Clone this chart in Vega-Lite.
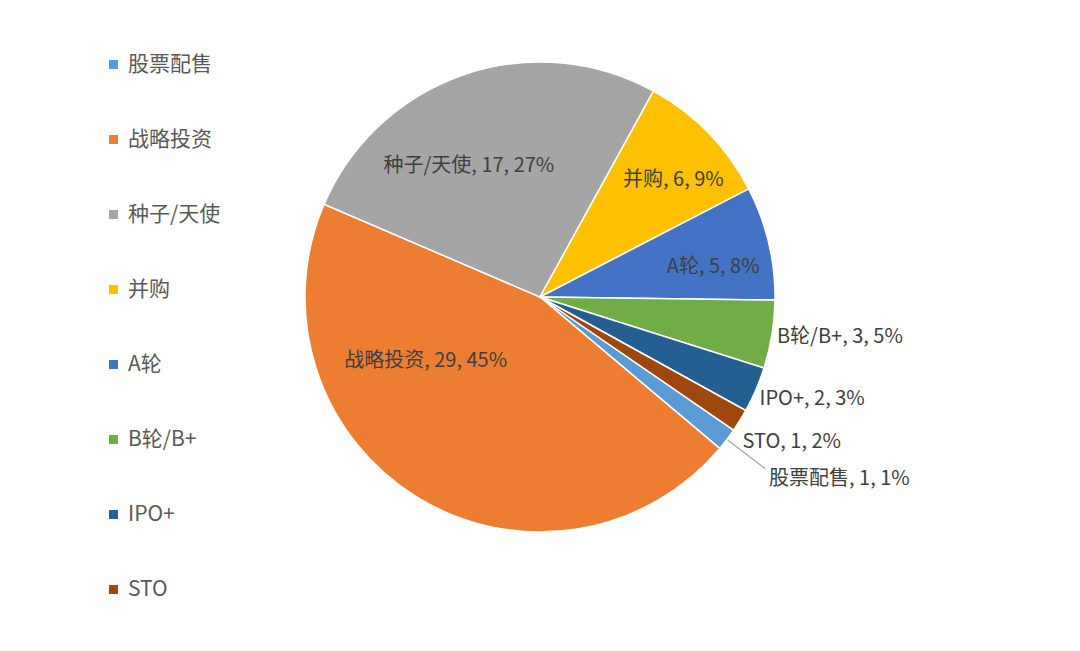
{
  "$schema": "https://vega.github.io/schema/vega-lite/v6.json",
  "width": 1080,
  "height": 594,
  "autosize": "none",
  "padding": {"left": 0, "top": 0, "right": 0, "bottom": 57},
  "background": "white",
  "config": {
    "view": {"stroke": null},
    "font": "Noto Sans CJK SC",
    "text": {"font": "Noto Sans CJK SC"}
  },
  "data": {
    "values": [
      {"idx": 1, "name": "股票配售", "count": 1, "label": "股票配售, 1, 1%"},
      {"idx": 2, "name": "战略投资", "count": 29, "label": "战略投资, 29, 45%"},
      {"idx": 3, "name": "种子/天使", "count": 17, "label": "种子/天使, 17, 27%"},
      {"idx": 4, "name": "并购", "count": 6, "label": "并购, 6, 9%"},
      {"idx": 5, "name": "A轮", "count": 5, "label": "A轮, 5, 8%"},
      {"idx": 6, "name": "B轮/B+", "count": 3, "label": "B轮/B+, 3, 5%"},
      {"idx": 7, "name": "IPO+", "count": 2, "label": "IPO+, 2, 3%"},
      {"idx": 8, "name": "STO", "count": 1, "label": "STO, 1, 2%"}
    ]
  },
  "encoding": {
    "theta": {"field": "count", "type": "quantitative", "stack": true, "scale": {"range": [2.1729, 8.4561]}},
    "order": {"field": "idx", "type": "quantitative", "sort": "ascending"}
  },
  "layer": [
    {
      "mark": {"type": "arc", "radius": 235, "stroke": "white", "strokeWidth": 1.5},
      "encoding": {
        "color": {
          "field": "name",
          "type": "nominal",
          "scale": {
            "domain": ["股票配售", "战略投资", "种子/天使", "并购", "A轮", "B轮/B+", "IPO+", "STO"],
            "range": ["#5B9BD5", "#ED7D31", "#A5A5A5", "#FFC000", "#4472C4", "#70AD47", "#255E91", "#9E480E"]
          },
          "sort": ["股票配售", "战略投资", "种子/天使", "并购", "A轮", "B轮/B+", "IPO+", "STO"],
          "legend": {
            "title": null,
            "orient": "none",
            "legendX": 103,
            "legendY": 54,
            "symbolType": "square",
            "symbolSize": 81,
            "symbolStrokeWidth": 0,
            "labelFont": "Noto Sans CJK SC",
            "labelFontSize": 21,
            "labelColor": "#595959",
            "labelOffset": 4,
            "rowPadding": 53,
            "padding": 0
          }
        }
      }
    },
    {
      "mark": {"type": "arc", "radius": 283, "radius2": 236, "padAngle": 0.1, "fill": null, "stroke": "#A6A6A6", "strokeWidth": 1.3},
      "encoding": {
        "detail": {"field": "name"},
        "strokeOpacity": {"condition": {"test": "datum.name === '股票配售'", "value": 1}, "value": 0}
      }
    },
    {
      "mark": {"type": "text", "radius": 139, "dx": -26, "align": "center", "baseline": "middle", "fontSize": 20, "color": "#404040"},
      "encoding": {"detail": {"field": "name"}, "text": {"condition": {"test": "datum.name === '种子/天使'", "field": "label"}, "value": ""}}
    },
    {
      "mark": {"type": "text", "radius": 168, "dx": 13, "align": "center", "baseline": "middle", "fontSize": 20, "color": "#404040"},
      "encoding": {"detail": {"field": "name"}, "text": {"condition": {"test": "datum.name === '并购'", "field": "label"}, "value": ""}}
    },
    {
      "mark": {"type": "text", "radius": 178, "dy": 11, "align": "center", "baseline": "middle", "fontSize": 20, "color": "#404040"},
      "encoding": {"detail": {"field": "name"}, "text": {"condition": {"test": "datum.name === 'A轮'", "field": "label"}, "value": ""}}
    },
    {
      "mark": {"type": "text", "radius": 75, "dx": -75, "align": "center", "baseline": "middle", "fontSize": 20, "color": "#404040"},
      "encoding": {"detail": {"field": "name"}, "text": {"condition": {"test": "datum.name === '战略投资'", "field": "label"}, "value": ""}}
    },
    {
      "mark": {"type": "text", "radius": 240, "dy": 2, "align": "left", "baseline": "middle", "fontSize": 20, "color": "#404040"},
      "encoding": {"detail": {"field": "name"}, "text": {"condition": {"test": "datum.name === 'B轮/B+'", "field": "label"}, "value": ""}}
    },
    {
      "mark": {"type": "text", "radius": 239, "dy": 8, "align": "left", "baseline": "middle", "fontSize": 20, "color": "#404040"},
      "encoding": {"detail": {"field": "name"}, "text": {"condition": {"test": "datum.name === 'IPO+'", "field": "label"}, "value": ""}}
    },
    {
      "mark": {"type": "text", "radius": 238, "dy": 20, "align": "left", "baseline": "middle", "fontSize": 20, "color": "#404040"},
      "encoding": {"detail": {"field": "name"}, "text": {"condition": {"test": "datum.name === 'STO'", "field": "label"}, "value": ""}}
    },
    {
      "mark": {"type": "text", "radius": 288, "dy": 7, "align": "left", "baseline": "middle", "fontSize": 20, "color": "#404040"},
      "encoding": {"detail": {"field": "name"}, "text": {"condition": {"test": "datum.name === '股票配售'", "field": "label"}, "value": ""}}
    }
  ]
}
